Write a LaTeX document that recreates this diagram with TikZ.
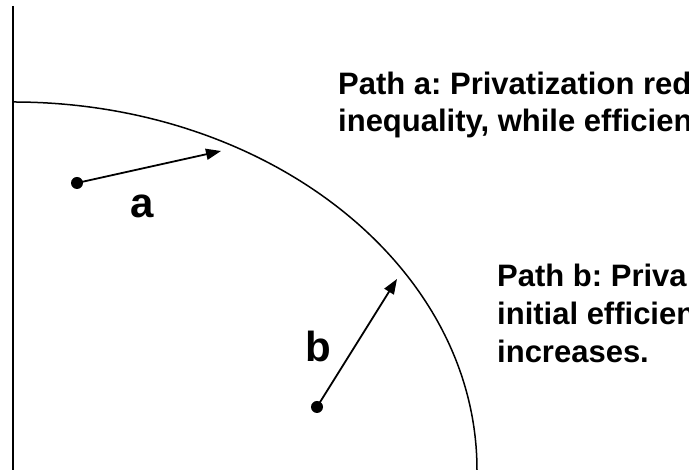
\documentclass[tikz,border=0pt]{standalone}
\usepackage{fontspec}
\setmainfont{Liberation Sans}
\usetikzlibrary{arrows.meta}
\frenchspacing
\tikzset{
  dot/.style={circle,fill=black,inner sep=0pt,minimum size=12pt},
  arr/.style={line width=1.8pt,-{Triangle[length=15pt,width=11pt]}},
  bigtxt/.style={anchor=base west,inner sep=0pt,font=\fontsize{31}{37}\selectfont\bfseries},
  lbl/.style={anchor=base west,inner sep=0pt,font=\fontsize{42}{48}\selectfont\bfseries}
}
\begin{document}
\begin{tikzpicture}[x=1pt,y=1pt]
\useasboundingbox (0,0) rectangle (689,470);
\clip (0,0) rectangle (689,470);
% axis
\draw[line width=2pt] (13,464) -- (13,0);
% frontier curve
\draw[line width=1.5pt] (13,368) arc[start angle=90,end angle=0,x radius=464,y radius=368];
% dots and arrows
\node[dot] (da) at (77,287) {};
\coordinate (ta) at (221,319);
\draw[arr] (da.center) -- (ta);
\node[dot] (db) at (317,63) {};
\coordinate (tb) at (397,191);
\draw[arr] (db.center) -- (tb);
% labels
\node[lbl] (la) at (130,252) {a};
\node[lbl] (lb) at (305,108) {b};
% texts
\node[bigtxt] (t1) at (338,375) {Path a: Privatization red};
\node[bigtxt] (t2) at (338,338) {inequality, while efficien};
\node[bigtxt] (t3) at (497,183) {Path b: Priva};
\node[bigtxt] (t4) at (497,145) {initial efficien};
\node[bigtxt] (t5) at (497,107) {increases.};
\end{tikzpicture}
\end{document}
